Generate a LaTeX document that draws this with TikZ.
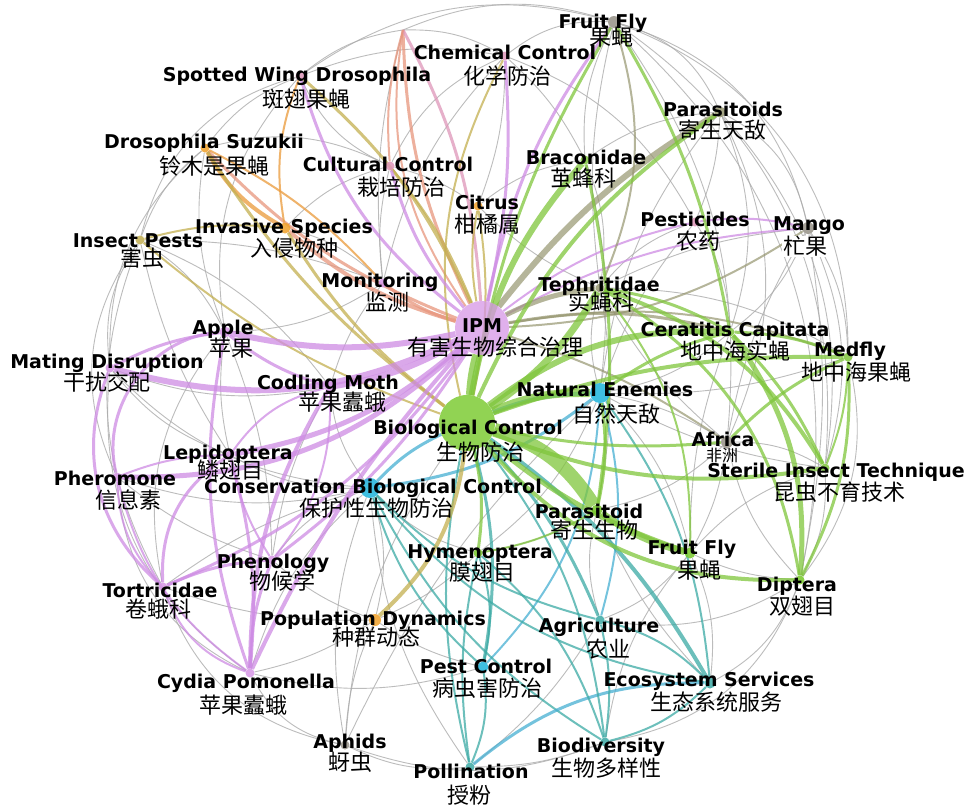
\documentclass[tikz,border=0pt]{standalone}
\usepackage{fontspec}
\setmainfont{DejaVu Sans}
\newfontfamily\cjk{Noto Sans CJK SC}
\usetikzlibrary{backgrounds}

\definecolor{ipmpink}{RGB}{214,150,230}
\definecolor{biogreen}{RGB}{118,200,40}
\definecolor{enemycyan}{RGB}{30,180,220}
\definecolor{invorange}{RGB}{240,160,40}
\definecolor{nodegray}{RGB}{150,145,135}
\definecolor{edgegray}{RGB}{172,172,172}
\definecolor{edgepink}{RGB}{206,140,228}
\definecolor{edgegreen}{RGB}{128,198,60}
\definecolor{edgeolive}{RGB}{195,175,80}
\definecolor{edgedrab}{RGB}{150,150,112}
\definecolor{edgeteal}{RGB}{60,170,165}
\definecolor{edgecyan}{RGB}{70,175,210}
\definecolor{edgesalmon}{RGB}{232,150,125}
\definecolor{edgeorange}{RGB}{236,160,70}
\definecolor{edgerose}{RGB}{222,150,185}

\tikzset{
  kw/.style={circle,fill=#1,inner sep=0pt,minimum size=9pt,fill opacity=.85},
  en/.style={font=\bfseries\fontsize{19}{20}\selectfont,inner sep=0pt,text height=13.8pt,text depth=0pt},
  cn/.style={font=\cjk\fontsize{22}{23}\selectfont,inner sep=0pt,text height=18pt,text depth=1pt},
  gr/.style={draw=edgegray,line width=.9pt,opacity=.8},
  pk/.style={draw=edgepink,line width=#1pt,opacity=.75},
  gn/.style={draw=edgegreen,line width=#1pt,opacity=.75},
  db/.style={draw=edgedrab,line width=#1pt,opacity=.7},
  ol/.style={draw=edgeolive,line width=#1pt,opacity=.75},
  sa/.style={draw=edgesalmon,line width=#1pt,opacity=.75},
  rs/.style={draw=edgerose,line width=#1pt,opacity=.75},
  orng/.style={draw=edgeorange,line width=#1pt,opacity=.8},
  tl/.style={draw=edgeteal,line width=#1pt,opacity=.75},
  cy/.style={draw=edgecyan,line width=#1pt,opacity=.75},
}

\begin{document}
\begin{tikzpicture}[x=1pt,y=-1pt,bend angle=25]
\useasboundingbox (0,0) rectangle (967,806);
% keywords
\node[kw=nodegray,minimum size=12pt] (fftop) at (614,22) {};
\node[kw=edgerose] (chem) at (505,56) {};
\node[kw=edgerose] (swd) at (300,76) {};
\node[kw=edgedrab,minimum size=11pt] (paras) at (720,112) {};
\node[kw=invorange] (dsuz) at (205,148) {};
\node[kw=edgerose] (cult) at (390,166) {};
\node[kw=edgegreen] (brac) at (585,160) {};
\node[kw=invorange] (citrus) at (478,206) {};
\node[kw=edgerose] (pest) at (695,222) {};
\node[kw=nodegray,minimum size=12pt] (mango) at (808,228) {};
\node[kw=invorange,minimum size=11pt] (inv) at (285,228) {};
\node[kw=edgeolive] (insp) at (140,240) {};
\node[kw=ipmpink] (mon) at (383,283) {};
\node[kw=edgedrab] (teph) at (600,288) {};
\node[kw=ipmpink,minimum size=54pt,fill opacity=.75] (ipm) at (482,328) {};
\node[kw=ipmpink,minimum size=11pt] (apple) at (225,332) {};
\node[kw=edgegreen] (cerat) at (730,332) {};
\node[kw=edgegreen] (medfly) at (848,357) {};
\node[kw=ipmpink] (mating) at (110,368) {};
\node[kw=ipmpink,minimum size=11pt] (codling) at (330,387) {};
\node[kw=enemycyan,minimum size=20pt] (natenem) at (600,393) {};
\node[kw=biogreen,minimum size=56pt,fill opacity=.8] (bc) at (467,423) {};
\node[kw=nodegray,minimum size=12pt] (africa) at (727,442) {};
\node[kw=ipmpink] (lepi) at (230,455) {};
\node[kw=edgegreen] (sit) at (825,468) {};
\node[kw=ipmpink] (pher) at (117,477) {};
\node[kw=enemycyan,minimum size=20pt] (cbc) at (370,488) {};
\node[kw=biogreen,minimum size=11pt] (parasd) at (597,510) {};
\node[kw=biogreen] (hymen) at (478,553) {};
\node[kw=ipmpink] (phen) at (272,560) {};
\node[kw=biogreen,minimum size=11pt] (ffl) at (690,553) {};
\node[kw=biogreen] (dipt) at (800,580) {};
\node[kw=ipmpink] (tortr) at (163,587) {};
\node[kw=invorange,minimum size=12pt] (popdyn) at (375,620) {};
\node[kw=edgeteal] (agri) at (600,620) {};
\node[kw=enemycyan,minimum size=11pt] (pestc) at (483,667) {};
\node[kw=ipmpink] (cydia) at (250,673) {};
\node[kw=edgeteal,minimum size=11pt] (ecos) at (710,683) {};
\node[kw=nodegray] (aphids) at (345,745) {};
\node[kw=edgeteal] (biodiv) at (605,742) {};
\node[kw=edgeteal] (poll) at (470,767) {};
\coordinate (top) at (403,30);

\begin{scope}[on background layer]
\fill[white] (0,0) rectangle (967,806);
% thin gray links
\draw[gr] (fftop) to[bend left=30] (mango);
\draw[gr] (fftop) to[bend left=35] (medfly);
\draw[gr] (fftop) to[bend left=30] (sit);
\draw[gr] (fftop) to[bend left=25] (paras);
\draw[gr] (fftop) to[bend left=20] (africa);
\draw[gr] (fftop) to[bend left=30] (dipt);
\draw[gr] (fftop) to[bend right=20] (chem);
\draw[gr] (top) to[bend left=20] (fftop);
\draw[gr] (swd) to[bend left=25] (fftop);
\draw[gr] (fftop) to[bend right=15] (brac);
\draw[gr] (fftop) to[bend right=10] (teph);
\draw[gr] (paras) to[bend left=25] (mango);
\draw[gr] (paras) to[bend left=10] (pest);
\draw[gr] (paras) to[bend left=20] (cerat);
\draw[gr] (paras) to[bend left=25] (sit);
\draw[gr] (paras) to[bend right=15] (brac);
\draw[gr] (paras) to[bend left=25] (africa);
\draw[gr] (paras) to[bend right=15] (natenem);
\draw[gr] (mango) to[bend left=20] (sit);
\draw[gr] (mango) to[bend left=15] (medfly);
\draw[gr] (mango) to[bend right=10] (teph);
\draw[gr] (mango) to[bend left=15] (cerat);
\draw[gr] (mango) to[bend right=10] (africa);
\draw[gr] (mango) to[bend left=10] (dipt);
\draw[gr] (pest) to[bend right=15] (teph);
\draw[gr] (pest) to[bend right=20] (chem);
\draw[gr] (pest) to[bend left=15] (cerat);
\draw[gr] (pest) to[bend right=10] (natenem);
\draw[gr] (chem) to[bend right=20] (cult);
\draw[gr] (chem) to[bend right=15] (swd);
\draw[gr] (chem) to[bend right=15] (mon);
\draw[gr] (chem) to[bend left=10] (citrus);
\draw[gr] (chem) to[bend left=10] (brac);
\draw[gr] (swd) to[bend right=15] (dsuz);
\draw[gr] (swd) to[bend right=20] (cult);
\draw[gr] (swd) to[bend right=30] (insp);
\draw[gr] (swd) to[bend right=25] (apple);
\draw[gr] (dsuz) to[bend right=15] (insp);
\draw[gr] (dsuz) to[bend left=20] (cult);
\draw[gr] (dsuz) to[bend right=15] (apple);
\draw[gr] (dsuz) to[bend right=25] (mating);
\draw[gr] (insp) to[bend left=15] (apple);
\draw[gr] (insp) to[bend right=20] (mating);
\draw[gr] (insp) to[bend right=30] (pher);
\draw[gr] (insp) to[bend right=10] (lepi);
\draw[gr] (insp) to[bend left=15] (codling);
\draw[gr] (insp) to[bend left=10] (mon);
\draw[gr] (insp) to[bend right=25] (tortr);
\draw[gr] (apple) to[bend right=10] (lepi);
\draw[gr] (apple) to[bend left=10] (phen);
\draw[gr] (apple) to[bend right=25] (tortr);
\draw[gr] (mating) to[bend right=15] (lepi);
\draw[gr] (mating) to[bend right=20] (cbc);
\draw[gr] (mating) to[bend right=15] (codling);
\draw[gr] (mating) to[bend right=30] (cydia);
\draw[gr] (pher) to[bend right=15] (cbc);
\draw[gr] (pher) to[bend right=10] (phen);
\draw[gr] (pher) to[bend right=30] (cydia);
\draw[gr] (tortr) to[bend left=10] (cbc);
\draw[gr] (tortr) to[bend right=10] (popdyn);
\draw[gr] (tortr) to[bend right=30] (aphids);
\draw[gr] (cydia) to[bend right=25] (aphids);
\draw[gr] (cydia) to[bend right=10] (popdyn);
\draw[gr] (cydia) to[bend right=15] (pestc);
\draw[gr] (cydia) to[bend left=15] (cbc);
\draw[gr] (aphids) to[bend right=15] (poll);
\draw[gr] (aphids) to[bend left=15] (cbc);
\draw[gr] (aphids) to[bend left=10] (natenem);
\draw[gr] (aphids) to[bend left=15] (bc);
\draw[gr] (aphids) to[bend left=10] (popdyn);
\draw[gr] (aphids) to[bend right=20] (biodiv);
\draw[gr] (poll) to[bend right=10] (biodiv);
\draw[gr] (poll) to[bend left=15] (cbc);
\draw[gr] (poll) to[bend right=10] (agri);
\draw[gr] (biodiv) to[bend right=30] (dipt);
\draw[gr] (biodiv) to[bend left=15] (ffl);
\draw[gr] (ecos) to[bend right=20] (dipt);
\draw[gr] (ecos) to[bend right=15] (ffl);
\draw[gr] (ecos) to[bend left=10] (parasd);
\draw[gr] (agri) to[bend left=15] (parasd);
\draw[gr] (agri) to[bend right=15] (ffl);
\draw[gr] (agri) to[bend right=20] (dipt);
\draw[gr] (dipt) to[bend left=10] (ffl);
\draw[gr] (dipt) to[bend right=15] (sit);
\draw[gr] (dipt) to[bend left=15] (africa);
\draw[gr] (dipt) to[bend right=25] (medfly);
\draw[gr] (sit) to[bend right=15] (africa);
\draw[gr] (sit) to[bend right=15] (ffl);
\draw[gr] (sit) to[bend left=10] (natenem);
\draw[gr] (africa) to[bend left=10] (teph);
\draw[gr] (africa) to[bend right=10] (natenem);
\draw[gr] (africa) to[bend left=10] (ffl);
\draw[gr] (africa) to[bend left=15] (parasd);
\draw[gr] (medfly) to[bend right=15] (teph);
\draw[gr] (medfly) to[bend left=10] (natenem);
\draw[gr] (ffl) to[bend left=10] (cerat);
\draw[gr] (ffl) to[bend right=15] (natenem);
\draw[gr] (parasd) to[bend left=10] (hymen);
\draw[gr] (parasd) to[bend right=10] (teph);
\draw[gr] (hymen) to[bend right=15] (natenem);
\draw[gr] (hymen) to[bend left=10] (popdyn);
\draw[gr] (hymen) to[bend left=15] (cbc);
\draw[gr] (popdyn) to[bend right=15] (cbc);
\draw[gr] (popdyn) to[bend right=10] (pestc);
\draw[gr] (popdyn) to[bend left=10] (phen);
\draw[gr] (phen) to[bend left=15] (cbc);
\draw[gr] (phen) to[bend left=10] (codling);
\draw[gr] (codling) to[bend right=15] (cbc);
\draw[gr] (codling) to[bend left=10] (mon);
\draw[gr] (lepi) to[bend right=15] (cbc);
\draw[gr] (mon) to[bend left=15] (apple);
\draw[gr] (mon) to[bend right=15] (inv);
\draw[gr] (mon) to[bend left=10] (cult);
\draw[gr] (cult) to[bend right=15] (inv);
\draw[gr] (cult) to[bend left=10] (citrus);
\draw[gr] (citrus) to[bend left=15] (brac);
\draw[gr] (citrus) to[bend right=10] (teph);
\draw[gr] (brac) to[bend left=15] (teph);
\draw[gr] (brac) to[bend left=10] (natenem);
\draw[gr] (teph) to[bend right=15] (natenem);
\draw[gr] (cerat) to[bend left=15] (natenem);
\draw[gr] (top) to[bend right=15] (swd);
\draw[gr] (top) to[bend left=15] (chem);
\draw[gr] (top) to[bend right=10] (mon);
% teal and cyan
\draw[cy=4] (natenem) to[bend right=10] (bc);
\draw[cy=3] (natenem) to[bend left=15] (cbc);
\draw[cy=2] (natenem) to[bend left=20] (pestc);
\draw[cy=2] (natenem) to[bend left=15] (agri);
\draw[tl=2] (natenem) to[bend left=15] (ecos);
\draw[cy=3] (cbc) to[bend left=10] (bc);
\draw[tl=2] (cbc) to[bend right=20] (ecos);
\draw[tl=2] (cbc) to[bend right=15] (biodiv);
\draw[tl=2] (cbc) to[bend right=15] (agri);
\draw[tl=2] (cbc) to[bend right=15] (pestc);
\draw[tl=4] (bc) to[bend left=12] (ecos);
\draw[cy=3] (poll) to[bend left=20] (ecos);
\draw[tl=3] (bc) to[bend left=10] (agri);
\draw[tl=2] (agri) to[bend left=15] (ecos);
\draw[tl=2] (biodiv) to[bend right=10] (agri);
\draw[tl=2] (biodiv) to[bend right=15] (ecos);
\draw[tl=2] (poll) to[bend right=15] (pestc);
\draw[tl=2] (poll) to[bend left=10] (hymen);
\draw[tl=2] (poll) to[bend left=12] (bc);
\draw[tl=3] (pestc) to[bend right=12] (bc);
\draw[tl=2] (hymen) to[bend left=15] (pestc);
\draw[tl=2] (biodiv) to[bend right=15] (bc);
\draw[tl=2] (hymen) to[bend left=15] (biodiv);
% orange, salmon and olive
\draw[orng=4] (dsuz) to[bend right=15] (inv);
\draw[sa=4] (inv) to[bend right=12] (ipm);
\draw[sa=3] (dsuz) to[bend right=12] (ipm);
\draw[sa=3] (mon) to[bend right=10] (ipm);
\draw[sa=3] (top) to[bend right=12] (ipm);
\draw[sa=2] (top) to[bend right=22] (ipm);
\draw[rs=3] (top) to[bend left=12] (ipm);
\draw[sa=2] (top) to[bend right=10] (cult);
\draw[ol=3] (swd) to[bend left=12] (ipm);
\draw[ol=3] (dsuz) to[bend right=10] (bc);
\draw[ol=3] (inv) to[bend right=10] (bc);
\draw[ol=2] (insp) to[bend left=10] (inv);
\draw[ol=2] (insp) to[bend right=10] (bc);
\draw[ol=4] (popdyn) to[bend right=20] (bc);
\draw[orng=2] (swd) to[bend right=15] (inv);
\draw[orng=2] (dsuz) to[bend left=10] (mon);
\draw[ol=2] (citrus) to[bend right=10] (ipm);
\draw[ol=2] (citrus) to[bend left=10] (bc);
\draw[ol=2] (cult) to[bend left=8] (ipm);
\draw[ol=2] (chem) to[bend right=20] (bc);
% pink
\draw[pk=6] (apple) to[bend right=12] (ipm);
\draw[pk=6] (mating) to[bend right=20] (ipm);
\draw[pk=6] (codling) to[bend right=10] (ipm);
\draw[pk=5] (pher) to[bend right=22] (ipm);
\draw[pk=5] (lepi) to[bend right=15] (ipm);
\draw[pk=4] (cydia) to[bend left=8] (ipm);
\draw[pk=3] (tortr) to[bend right=15] (ipm);
\draw[pk=3] (phen) to[bend right=10] (ipm);
\draw[pk=3] (ipm) to[bend left=12] (cult);
\draw[pk=3] (swd) to[bend right=18] (ipm);
\draw[pk=3] (ipm) to[bend right=8] (chem);
\draw[pk=3] (fftop) to[bend right=12] (ipm);
\draw[pk=2] (ipm) to[bend left=12] (pest);
\draw[pk=2] (pest) to[bend left=10] (mango);
\draw[pk=2] (mango) to[bend right=12] (ipm);
\draw[pk=4] (cydia) to[bend left=15] (codling);
\draw[pk=3] (cydia) to[bend left=10] (phen);
\draw[pk=3] (cydia) to[bend right=10] (lepi);
\draw[pk=2] (cydia) to[bend left=25] (tortr);
\draw[pk=3] (cydia) to[bend left=15] (apple);
\draw[pk=2] (cydia) to[bend left=20] (pher);
\draw[pk=3] (apple) to[bend right=10] (mating);
\draw[pk=3] (apple) to[bend right=50] (pher);
\draw[pk=3] (mating) to[bend right=35] (tortr);
\draw[pk=3] (lepi) to[bend right=30] (tortr);
\draw[pk=3] (tortr) to[bend left=10] (phen);
\draw[pk=2] (pher) to[bend left=10] (lepi);
\draw[pk=3] (codling) to[bend left=10] (apple);
\draw[pk=2] (codling) to[bend right=20] (lepi);
\draw[pk=2] (phen) to[bend left=10] (lepi);
\draw[pk=2] (pher) to[bend right=20] (tortr);
\draw[pk=2] (codling) to[bend left=20] (phen);
% drab, from IPM
\draw[db=6] (ipm) to[bend left=10] (paras);
\draw[db=5] (ipm) to[bend left=10] (teph);
\draw[db=3] (ipm) to[bend left=12] (cerat);
\draw[db=2] (ipm) to[bend left=15] (medfly);
\draw[db=2] (ipm) to[bend left=8] (africa);
\draw[db=2] (ipm) to[bend right=15] (mango);
\draw[db=2] (fftop) to[bend left=20] (teph);
% green, from biological control
\draw[gn=14] (bc) to[bend left=20] (parasd);
\draw[gn=7] (parasd) to[bend right=10] (ffl);
\draw[gn=8] (bc) to[bend left=12] (natenem);
\draw[gn=7] (bc) to[bend right=12] (teph);
\draw[gn=6] (bc) to[bend left=15] (brac);
\draw[gn=6] (bc) to[bend left=20] (cerat);
\draw[gn=4] (bc) to[bend left=10] (medfly);
\draw[gn=4] (bc) to[bend right=15] (sit);
\draw[gn=4] (bc) to[bend right=25] (dipt);
\draw[gn=5] (bc) to[bend right=10] (ffl);
\draw[gn=3] (bc) to[bend right=8] (africa);
\draw[gn=3] (bc) to[bend left=10] (fftop);
\draw[gn=4] (bc) to[bend left=15] (paras);
\draw[gn=3] (bc) to[bend left=10] (hymen);
\draw[gn=6] (bc) to[bend left=5] (ipm);
\draw[gn=5] (cerat) to[bend left=20] (dipt);
\draw[gn=3] (medfly) to[bend left=15] (dipt);
\draw[gn=4] (teph) to[bend left=20] (sit);
\draw[gn=3] (teph) to[bend left=10] (cerat);
\draw[gn=3] (teph) to[bend left=25] (dipt);
\draw[gn=3] (cerat) to[bend left=10] (medfly);
\draw[gn=3] (africa) to[bend left=10] (medfly);
\draw[gn=3] (cerat) to[bend left=10] (sit);
\draw[gn=3] (fftop) to[bend left=10] (cerat);
\draw[gn=3] (natenem) to[bend left=10] (cerat);
\draw[gn=3] (natenem) to[bend left=10] (parasd);
\draw[gn=3] (brac) to[bend left=10] (parasd);
\draw[gn=2] (ffl) to[bend right=20] (teph);
\draw[gn=2] (hymen) to[bend right=10] (parasd);
\draw[gn=2] (sit) to[bend right=10] (medfly);
\end{scope}

% labels
\node[en] (fftop-en) at (603,22) {Fruit Fly};
\node[cn] (fftop-cn) at (611,37) {果蝇};
\node[en] (chem-en) at (505,53) {Chemical Control};
\node[cn] (chem-cn) at (507,76) {化学防治};
\node[en] (swd-en) at (297,75) {Spotted Wing Drosophila};
\node[cn] (swd-cn) at (306,99) {斑翅果蝇};
\node[en] (paras-en) at (723,110) {Parasitoids};
\node[cn] (paras-cn) at (722,130) {寄生天敌};
\node[en] (dsuz-en) at (204,142) {Drosophila Suzukii};
\node[cn] (dsuz-cn) at (214,166) {铃木是果蝇};
\node[en] (cult-en) at (388,165) {Cultural Control};
\node[cn] (cult-cn) at (401,187) {栽培防治};
\node[en] (brac-en) at (586,158) {Braconidae};
\node[cn] (brac-cn) at (583,178) {茧蜂科};
\node[en] (citrus-en) at (487,203) {Citrus};
\node[cn] (citrus-cn) at (487,224) {柑橘属};
\node[en] (pest-en) at (695,220) {Pesticides};
\node[cn] (pest-cn) at (698,241) {农药};
\node[en] (mango-en) at (809,224) {Mango};
\node[cn,fill=white,inner sep=1pt] (mango-cn) at (805,246) {杧果};
\node[en] (inv-en) at (284,227) {Invasive Species};
\node[cn] (inv-cn) at (294,248) {入侵物种};
\node[en] (insp-en) at (138,241) {Insect Pests};
\node[cn] (insp-cn) at (142,258) {害虫};
\node[en] (mon-en) at (380,281) {Monitoring};
\node[cn] (mon-cn) at (387,302) {监测};
\node[en] (teph-en) at (599,285) {Tephritidae};
\node[cn] (teph-cn) at (601,302) {实蝇科};
\node[en] (ipm-en) at (482,326) {IPM};
\node[cn] (ipm-cn) at (495,347) {有害生物综合治理};
\node[en] (apple-en) at (223,328) {Apple};
\node[cn] (apple-cn) at (231,348) {苹果};
\node[en] (cerat-en) at (735,330) {Ceratitis Capitata};
\node[cn] (cerat-cn) at (735,351) {地中海实蝇};
\node[en] (medfly-en) at (850,350) {Medfly};
\node[cn] (medfly-cn) at (856,372) {地中海果蝇};
\node[en] (mating-en) at (107,362) {Mating Disruption};
\node[cn] (mating-cn) at (107,382) {干扰交配};
\node[en] (codling-en) at (328,383) {Codling Moth};
\node[cn] (codling-cn) at (342,402) {苹果蠹蛾};
\node[en] (natenem-en) at (605,390) {Natural Enemies};
\node[cn] (natenem-cn) at (616,414) {自然天敌};
\node[en] (bc-en) at (468,428) {Biological Control};
\node[cn] (bc-cn) at (480,452) {生物防治};
\node[en] (africa-en) at (723,440) {Africa};
\node[cn,font=\cjk\fontsize{16}{17}\selectfont,text height=13pt] (africa-cn) at (722,455) {非洲};
\node[en] (lepi-en) at (228,453) {Lepidoptera};
\node[cn] (lepi-cn) at (230,470) {鳞翅目};
\node[en] (sit-en) at (836,471) {Sterile Insect Technique};
\node[cn] (sit-cn) at (839,492) {昆虫不育技术};
\node[en] (pher-en) at (115,479) {Pheromone};
\node[cn] (pher-cn) at (128,500) {信息素};
\node[en] (cbc-en) at (373,487) {Conservation Biological Control};
\node[cn] (cbc-cn) at (376,508) {保护性生物防治};
\node[en] (parasd-en) at (589,512) {Parasitoid};
\node[cn] (parasd-cn) at (594,530) {寄生生物};
\node[en] (hymen-en) at (480,552) {Hymenoptera};
\node[cn] (hymen-cn) at (482,572) {膜翅目};
\node[en] (phen-en) at (273,562) {Phenology};
\node[cn] (phen-cn) at (282,581) {物候学};
\node[en] (ffl-en) at (692,548) {Fruit Fly};
\node[cn] (ffl-cn) at (699,570) {果蝇};
\node[en] (dipt-en) at (797,585) {Diptera};
\node[cn] (dipt-cn) at (802,606) {双翅目};
\node[en] (tortr-en) at (160,591) {Tortricidae};
\node[cn] (tortr-cn) at (158,609) {卷蛾科};
\node[en] (popdyn-en) at (373,619) {Population Dynamics};
\node[cn] (popdyn-cn) at (376,637) {种群动态};
\node[en] (agri-en) at (599,626) {Agriculture};
\node[cn] (agri-cn) at (608,649) {农业};
\node[en] (pestc-en) at (486,667) {Pest Control};
\node[cn] (pestc-cn) at (487,688) {病虫害防治};
\node[en] (cydia-en) at (246,682) {Cydia Pomonella};
\node[cn] (cydia-cn) at (243,705) {苹果蠹蛾};
\node[en] (ecos-en) at (709,680) {Ecosystem Services};
\node[cn] (ecos-cn) at (716,702) {生态系统服务};
\node[en] (aphids-en) at (350,742) {Aphids};
\node[cn] (aphids-cn) at (350,762) {蚜虫};
\node[en] (biodiv-en) at (601,746) {Biodiversity};
\node[cn] (biodiv-cn) at (606,768) {生物多样性};
\node[en] (poll-en) at (471,772) {Pollination};
\node[cn] (poll-cn) at (469,795) {授粉};
\end{tikzpicture}
\end{document}
